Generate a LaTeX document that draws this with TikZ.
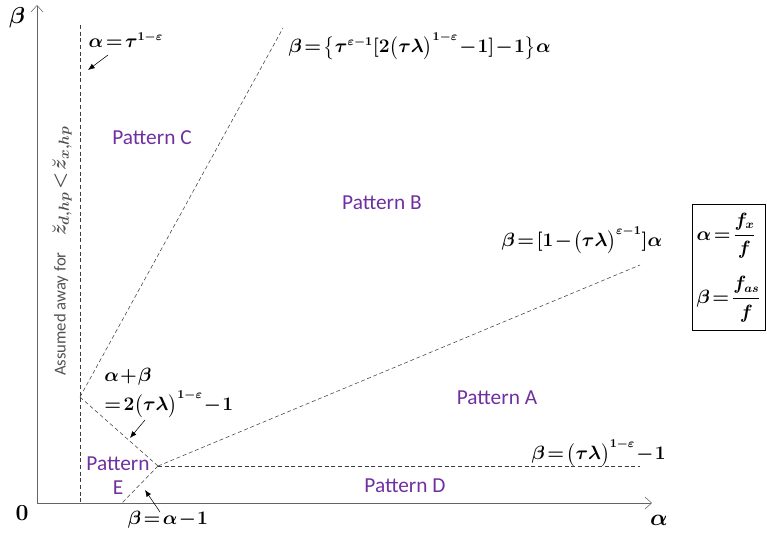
\documentclass[tikz,border=0pt]{standalone}
\usepackage{amsmath,bm}
\usepackage{fontspec}
\newfontfamily\patfont{Carlito}
\usetikzlibrary{arrows.meta}
\definecolor{patcol}{RGB}{112,48,160}
\definecolor{axcol}{RGB}{100,100,100}
\definecolor{bndcol}{RGB}{60,60,60}
\definecolor{notecol}{RGB}{80,80,80}
\medmuskip=1mu
\thickmuskip=2mu

\begin{document}
\begin{tikzpicture}[x=.75pt,y=-.75pt,>=Stealth,font=\fontsize{13.5}{15}\selectfont\boldmath,
  pattern/.style={patcol,font=\patfont\fontsize{16}{18}\selectfont,align=center},
  bound/.style={bndcol,densely dashed,thin},
  note/.style={black,-{Latex[length=5pt,width=4pt]}},
  axlab/.style={font=\fontsize{16}{18}\selectfont\boldmath}]
\useasboundingbox (0,0) rectangle (767,535);
% axes
\coordinate (o) at (37,503);
\coordinate (ytop) at (37,5);
\coordinate (xend) at (652,503);
\draw[axcol,-{Straight Barb[length=5pt,width=9pt]}] (o)--(ytop);
\draw[axcol,-{Straight Barb[length=5pt,width=9pt]}] (o)--(xend);
\node[axlab] (ylab) at (17,18) {$\beta$};
\node[axlab] (zero) at (22,513) {$0$};
\node[axlab] (xlab) at (659,520) {$\alpha$};
% boundaries
\coordinate (vtop) at (80,25);
\coordinate (vbot) at (80,503);
\coordinate (k1) at (80,397);
\coordinate (k2) at (158,466);
\coordinate (ctop) at (283,28);
\coordinate (aend) at (640,265);
\coordinate (dend) at (640,466);
\coordinate (ebot) at (122,503);
\draw[bound] (vtop)--(vbot);
\draw[bound] (k1)--(ctop);
\draw[bound] (k1)--(k2);
\draw[bound] (k2)--(aend);
\draw[bound] (k2)--(dend);
\draw[bound] (k2)--(ebot);
% regions
\node[pattern] (pc) at (152,138) {Pattern C};
\node[pattern] (pb) at (382,203) {Pattern B};
\node[pattern] (pa) at (497,398) {Pattern A};
\node[pattern] (pd) at (405,486) {Pattern D};
\node[pattern] (pe) at (118,476) {Pattern\\E};
% boundary labels
\node[anchor=west] (lv) at (84,40) {$\alpha=\tau^{1-\varepsilon}$};
\node[anchor=west] (lc) at (284,46) {$\beta=\bigl\{\tau^{\varepsilon-1}[2\bigl(\tau\lambda\bigr)^{1-\varepsilon}-1]-1\bigr\}\alpha$};
\node[anchor=west] (la) at (497,240) {$\beta=[1-\bigl(\tau\lambda\bigr)^{\varepsilon-1}]\alpha$};
\node[anchor=west] (ld) at (527,453) {$\beta=\bigl(\tau\lambda\bigr)^{1-\varepsilon}-1$};
\node[anchor=west,inner sep=0pt] (lk1) at (104,377) {$\alpha+\beta$};
\node[anchor=west,inner sep=0pt] (lk2) at (104,404) {$=2\bigl(\tau\lambda\bigr)^{1-\varepsilon}-1$};
\node (le) at (168,520) {$\beta=\alpha-1$};
\coordinate (nv0) at (108,55);
\coordinate (nv1) at (88,70);
\coordinate (nk0) at (145,420);
\coordinate (nk1) at (130,438);
\coordinate (ne0) at (160,512);
\coordinate (ne1) at (145,490);
\draw[note] (nv0)--(nv1);
\draw[note] (nk0)--(nk1);
\draw[note] (ne0)--(ne1);
% excluded region
\node[notecol,rotate=90,font=\patfont\fontsize{12.5}{14}\selectfont] (excl) at (62,251)
  {Assumed away for\quad{\boldmath\fontsize{15}{17}\selectfont$\breve{z}_{d,hp}<\breve{z}_{x,hp}$}};
% definitions
\node[draw,black,thin,minimum width=54.75pt,minimum height=94.5pt,align=left,anchor=north west] (defs) at (692,204)
  {$\alpha=\dfrac{f_x}{f}$\\[12pt]$\beta=\dfrac{f_{as}}{f}$};
\end{tikzpicture}
\end{document}
